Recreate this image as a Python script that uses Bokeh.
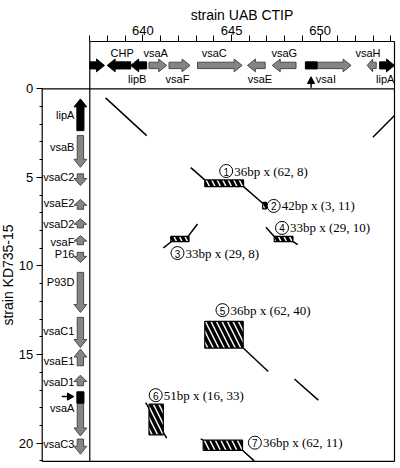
from bokeh.plotting import figure
from bokeh.models import FixedTicker, LinearAxis, Range1d
from bokeh.core.properties import value
from bokeh.embed import file_html
from bokeh.resources import INLINE

# ---------------- data ----------------
# genes of strain UAB CTIP (top panel), kb
top_names = ["", "CHP", "lipB", "vsaA", "vsaF", "vsaC", "vsaE", "vsaG", "vsaI", "vsaH", "lipA"]
top_start = [637.0, 637.98, 639.31, 640.34, 641.47, 643.08, 645.9, 647.3, 649.83, 652.66, 653.36]
top_end = [637.83, 639.31, 640.21, 641.34, 642.66, 645.6, 646.9, 648.64, 651.75, 653.17, 654.2]
top_dir = [1, -1, -1, 1, 1, 1, -1, -1, 1, -1, 1]
top_kind = ["black", "black", "black", "gray", "gray", "gray", "gray", "gray", "gray", "gray", "black"]
top_label_x = [0, 638.83, 639.68, 640.72, 641.95, 644.02, 646.6, 647.98, 650.33, 652.7, 653.68]
top_label_side = ["", "above", "below", "above", "below", "above", "below", "above", "below", "above", "below"]
top_block = [649.17, 649.83]      # black leader of vsaI
top_marker_x = 649.49             # upward pointer under vsaI

# genes of strain KD735-15 (left panel), kb
left_names = ["lipA", "vsaB", "vsaC2", "vsaE2", "vsaD2", "vsaF", "P16", "P93D",
              "vsaC1", "vsaE1", "vsaD1", "vsaA", "vsaC3"]
left_start = [0.57, 2.64, 4.8, 6.24, 7.34, 8.29, 9.23, 10.36, 12.9, 14.69, 16.16, 17.74, 19.77]
left_end = [2.36, 4.43, 5.46, 6.8, 7.85, 8.8, 9.8, 12.62, 14.6, 15.63, 16.76, 19.59, 20.62]
left_dir = [-1, 1, 1, -1, -1, -1, 1, 1, 1, -1, -1, 1, 1]
left_kind = ["black"] + ["gray"] * 12
left_label_y = [1.5, 3.3, 5.0, 6.45, 7.63, 8.67, 9.32, 10.93, 13.65, 15.35, 16.54, 17.99, 20.06]
left_block = [17.1, 17.74]        # black leader of vsaA
left_marker_y = 17.37             # pointer left of vsaA

# dot-plot diagonals (x: UAB CTIP kb, y: KD735-15 kb)
diag_x0 = [637.89, 652.98, 642.70, 645.68, 641.15, 642.55, 646.94, 648.47, 645.66, 648.55, 640.15, 643.26, 645.62]
diag_y0 = [0.51, 2.73, 4.45, 5.52, 8.98, 8.33, 7.82, 8.63, 14.63, 16.38, 17.71, 19.76, 20.40]
diag_x1 = [640.21, 654.2, 643.49, 646.76, 641.60, 643.08, 647.41, 648.74, 647.07, 649.90, 641.34, 643.40, 646.28]
diag_y1 = [2.64, 1.51, 5.14, 6.46, 8.63, 7.63, 8.34, 8.80, 15.95, 17.57, 19.72, 19.83, 21.0]

# tandem repeat blocks
rep_id = ["1", "2", "3", "4", "5", "6", "7"]
rep_x0 = [643.49, 646.76, 641.57, 647.41, 643.49, 640.34, 643.40]
rep_x1 = [645.68, 646.98, 642.60, 648.47, 645.66, 641.15, 645.62]
rep_y0 = [5.14, 6.41, 8.33, 8.33, 13.13, 17.80, 19.83]
rep_y1 = [5.52, 6.78, 8.63, 8.63, 14.63, 19.53, 20.40]
rep_text = ["36bp x (62, 8)", "42bp x (3, 11)", "33bp x (29, 8)", "33bp x (29, 10)",
            "36bp x (62, 40)", "51bp x (16, 33)", "36bp x (62, 11)"]
rep_lx = [644.70, 647.38, 641.95, 647.85, 644.49, 640.72, 646.32]
rep_ly = [4.64, 6.61, 9.27, 7.85, 12.49, 17.29, 19.97]

x_ticks = [640, 645, 650]
x_minor = list(range(637, 655))
y_ticks = [0, 5, 10, 15, 20]
y_minor = list(range(0, 22))

# ---------------- geometry constants ----------------
X0, X1 = 637.0, 654.2      # main region in x
Y0, Y1 = 0.0, 21.03        # main region in y
XL = 634.313               # outer edge of left gene panel
YT = -2.669                # outer edge of top gene panel

SANS = value("Liberation Sans")
SERIF = value("Liberation Serif")

p = figure(width=400, height=468, output_backend="svg", toolbar_location=None,
           x_axis_location=None, y_axis_location=None,
           x_range=Range1d(631.959, 654.539), y_range=Range1d(21.428, -4.983),
           min_border=0)
p.outline_line_color = None
p.grid.visible = False
p.background_fill_color = "white"
p.border_fill_color = "white"

xax = LinearAxis(fixed_location=YT, bounds=(X0, X1),
                 ticker=FixedTicker(ticks=x_ticks, minor_ticks=x_minor),
                 axis_label="strain UAB CTIP")
yax = LinearAxis(fixed_location=XL, bounds=(Y0, Y1),
                 ticker=FixedTicker(ticks=y_ticks, minor_ticks=y_minor),
                 axis_label="strain KD735-15")
for ax in (xax, yax):
    ax.axis_line_color = None
    ax.major_tick_in = 0
    ax.minor_tick_in = 0
    ax.major_tick_line_color = "black"
    ax.minor_tick_line_color = "black"
    ax.major_label_text_font = "Liberation Sans"
    ax.major_label_text_font_size = "13px"
    ax.major_label_text_color = "black"
    ax.axis_label_text_font = "Liberation Sans"
    ax.axis_label_text_font_size = "14px"
    ax.axis_label_text_font_style = "normal"
    ax.axis_label_text_color = "black"
    ax.axis_label_standoff = 0
xax.major_tick_out = 7
xax.minor_tick_out = 6
xax.major_label_standoff = 0
yax.major_tick_out = 6
yax.minor_tick_out = 3
yax.major_label_standoff = 3
p.add_layout(xax, "above")
p.add_layout(yax, "left")

# frame lines
fx0 = [X0, X0, XL, XL, XL, X1]
fy0 = [YT, YT, Y0, Y1, Y0, YT]
fx1 = [X1, X0, X1, X1, XL, X1]
fy1 = [YT, Y1, Y0, Y1, Y1, Y1]
p.segment(fx0, fy0, fx1, fy1, line_color="black", line_width=1.2)

# arrows
HEAD_L, HEAD_W, BODY_W = 0.45, 0.36, 0.18


def arrow(a, b, c, d, vertical, body=BODY_W):
    h = min(HEAD_L, 0.6 * (b - a))
    if d > 0:
        tip, base, tail = b, b - h, a
    else:
        tip, base, tail = a, a + h, b
    along = [tail, base, base, tip, base, base, tail]
    cross = [c - body, c - body, c - HEAD_W, c, c + HEAD_W, c + body, c + body]
    return (cross, along) if vertical else (along, cross)


TOP_C = -1.32
LEFT_C = 636.47
fills = {"black": ("black", "black"), "gray": ("#858585", "#4a4a4a")}

for kind in ("black", "gray"):
    xs, ys = [], []
    for s, e, d, k in zip(top_start, top_end, top_dir, top_kind):
        if k == kind:
            bx, by = arrow(s, e, TOP_C, d, False, 0.2 if k == "black" else BODY_W)
            xs.append(bx); ys.append(by)
    for s, e, d, k in zip(left_start, left_end, left_dir, left_kind):
        if k == kind:
            bx, by = arrow(s, e, LEFT_C, d, True, 0.2 if k == "black" else BODY_W)
            xs.append(bx); ys.append(by)
    fc, lc = fills[kind]
    p.patches(xs, ys, fill_color=fc, line_color=lc, line_width=1)

# black leaders
p.quad(left=[top_block[0], LEFT_C - 0.2], right=[top_block[1], LEFT_C + 0.2],
       top=[TOP_C - 0.2, left_block[0]], bottom=[TOP_C + 0.2, left_block[1]],
       fill_color="black", line_color="black")

# pointers
p.patches([[top_marker_x - 0.2, top_marker_x, top_marker_x + 0.2],
           [636.1 - 0.36, 636.1, 636.1 - 0.36]],
          [[-0.3, -0.68, -0.3], [left_marker_y - 0.2, left_marker_y, left_marker_y + 0.2]],
          fill_color="black", line_color="black")
p.segment([top_marker_x, 635.42], [-0.3, left_marker_y], [top_marker_x, 636.1 - 0.35], [-0.06, left_marker_y],
          line_color="black", line_width=1.5)

# gene labels
ab_x = [x for x, sd in zip(top_label_x, top_label_side) if sd == "above"]
ab_t = [n for n, sd in zip(top_names, top_label_side) if sd == "above"]
be_x = [x for x, sd in zip(top_label_x, top_label_side) if sd == "below"]
be_t = [n for n, sd in zip(top_names, top_label_side) if sd == "below"]
p.text(ab_x, [-2.0] * len(ab_x), text=ab_t, text_font=SANS, text_font_size="11px",
       text_align="center", text_baseline="middle", text_color="black")
p.text(be_x, [-0.56] * len(be_x), text=be_t, text_font=SANS, text_font_size="11px",
       text_align="center", text_baseline="middle", text_color="black")
p.text([636.13] * len(left_names), left_label_y, text=left_names, text_font=SANS,
       text_font_size="11px", text_align="right", text_baseline="middle", text_color="black")

# diagonals
p.segment(diag_x0, diag_y0, diag_x1, diag_y1, line_color="black", line_width=1.5)

# repeat blocks
p.quad(left=rep_x0, right=rep_x1, top=rep_y0, bottom=rep_y1, fill_color="white",
       line_color="black", line_width=1.2, hatch_pattern="\\", hatch_color="black",
       hatch_scale=11, hatch_weight=3.5)

# circled numbers and labels
p.scatter(rep_lx, rep_ly, marker="circle", size=13, fill_color="white",
          line_color="black", line_width=1)
p.text(rep_lx, rep_ly, text=rep_id, text_font=SANS, text_font_size="10px",
       text_align="center", text_baseline="middle", text_color="black", y_offset=0.5)
p.text(rep_lx, rep_ly, text=rep_text, text_font=SERIF, text_font_size="13px",
       text_align="left", text_baseline="middle", text_color="black", x_offset=8)

open("out.html", "w").write(file_html(p, INLINE))
